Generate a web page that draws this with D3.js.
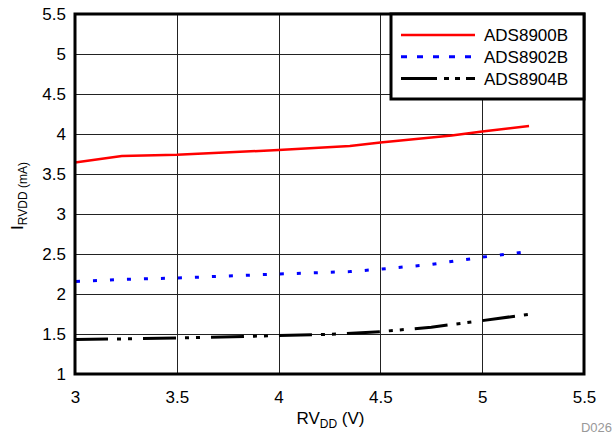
<!DOCTYPE html>
<html><head><meta charset="utf-8">
<script src="https://cdn.jsdelivr.net/npm/d3@7"></script>
<style>
body{margin:0;background:#fff;}
svg{display:block;font-family:"Liberation Sans",Arial,sans-serif;}
</style></head>
<body>
<svg id="c" width="613" height="438"></svg>
<script>
const xTicks = [3, 3.5, 4, 4.5, 5, 5.5];
const yTicks = [1, 1.5, 2, 2.5, 3, 3.5, 4, 4.5, 5, 5.5];
const seriesNames = ["ADS8900B", "ADS8902B", "ADS8904B"];
const x8900 = [3.0, 3.23, 3.5, 4.0, 4.35, 4.5, 4.85, 5.0, 5.23];
const y8900 = [3.645, 3.725, 3.74, 3.80, 3.85, 3.895, 3.98, 4.03, 4.10];
const x8902 = [3.0, 3.2, 3.5, 4.0, 4.35, 4.5, 4.75, 5.0, 5.23];
const y8902 = [2.155, 2.18, 2.20, 2.25, 2.28, 2.31, 2.37, 2.46, 2.53];
const x8904 = [3.0, 3.5, 4.0, 4.3, 4.5, 4.75, 5.0, 5.23];
const y8904 = [1.43, 1.45, 1.48, 1.50, 1.53, 1.585, 1.667, 1.746];

const svg = d3.select("#c");
const L = 75, R = 584, T = 14, B = 374;
const x = d3.scaleLinear().domain([3, 5.5]).range([L, R]);
const y = d3.scaleLinear().domain([1, 5.5]).range([B, T]);

// grid
const g = svg.append("g");
g.selectAll(".vg").data(xTicks).join("line")
  .attr("x1", d => Math.round(x(d)) + 0.5).attr("x2", d => Math.round(x(d)) + 0.5)
  .attr("y1", T).attr("y2", B).attr("stroke", "#222").attr("stroke-width", 1);
g.selectAll(".hg").data(yTicks).join("line")
  .attr("y1", d => Math.round(y(d)) + 0.5).attr("y2", d => Math.round(y(d)) + 0.5)
  .attr("x1", L).attr("x2", R).attr("stroke", "#222").attr("stroke-width", 1);

// axes labels
const xAxis = d3.axisBottom(x).tickValues(xTicks).tickSize(0).tickPadding(0).tickFormat(d3.format("~g"));
const xa = svg.append("g").attr("transform", `translate(0,${B})`).call(xAxis);
xa.select(".domain").remove();
xa.selectAll("text").attr("font-size", 17).attr("font-family", "Liberation Sans, Arial, sans-serif")
  .attr("fill", "#000").attr("dy", null).attr("y", 29);

const yAxis = d3.axisLeft(y).tickValues(yTicks).tickSize(0).tickPadding(0).tickFormat(d3.format("~g"));
const ya = svg.append("g").attr("transform", `translate(${L - 9},0)`).call(yAxis);
ya.select(".domain").remove();
ya.selectAll("text").attr("font-size", 17).attr("font-family", "Liberation Sans, Arial, sans-serif")
  .attr("fill", "#000").attr("dy", "0.35em").attr("x", 0);

// lines
const line = d3.line().x(d => x(d[0])).y(d => y(d[1]));
const d0 = x8900.map((v, i) => [v, y8900[i]]);
const d1 = x8902.map((v, i) => [v, y8902[i]]);
const d2 = x8904.map((v, i) => [v, y8904[i]]);
svg.append("path").attr("d", line(d0)).attr("fill", "none").attr("stroke", "#ff0000").attr("stroke-width", 2.5);
svg.append("path").attr("d", line(d1)).attr("fill", "none").attr("stroke", "#0000ff").attr("stroke-width", 3)
  .attr("stroke-dasharray", "4,13").attr("stroke-dashoffset", -1);
svg.append("path").attr("d", line(d2)).attr("fill", "none").attr("stroke", "#000").attr("stroke-width", 3)
  .attr("stroke-dasharray", "33,9,4,7,4,11");

// border
svg.append("rect").attr("x", L).attr("y", T).attr("width", R - L).attr("height", B - T)
  .attr("fill", "none").attr("stroke", "#000").attr("stroke-width", 3);

// legend
const lg = svg.append("g");
lg.append("rect").attr("x", 391).attr("y", T).attr("width", R - 391).attr("height", 85)
  .attr("fill", "#fff").attr("stroke", "#000").attr("stroke-width", 3);
const legStyles = [
  {c: "#ff0000", w: 2.5, dash: null},
  {c: "#0000ff", w: 3, dash: "6,10"},
  {c: "#000", w: 3, dash: "36,7,5,6,5,6,9"}
];
seriesNames.forEach((n, i) => {
  const yy = 35 + i * 21.7;
  const ln = lg.append("line").attr("x1", 401).attr("x2", 475).attr("y1", yy).attr("y2", yy)
    .attr("stroke", legStyles[i].c).attr("stroke-width", legStyles[i].w);
  if (legStyles[i].dash) ln.attr("stroke-dasharray", legStyles[i].dash);
  lg.append("text").attr("x", 484).attr("y", yy).attr("dy", "0.36em").attr("font-size", 17)
    .attr("fill", "#000").text(n);
});

// x title
const xt = svg.append("text").attr("x", (L + R) / 2 + 1).attr("y", 424).attr("text-anchor", "middle")
  .attr("font-size", 17).attr("fill", "#000");
xt.append("tspan").text("RV");
xt.append("tspan").attr("font-size", 12).attr("dy", 4).text("DD");
xt.append("tspan").attr("dy", -4).text(" (V)");

// y title
const yt = svg.append("text").attr("transform", `translate(23,${(T + B) / 2 + 2}) rotate(-90)`)
  .attr("text-anchor", "middle").attr("font-size", 17).attr("fill", "#000");
yt.append("tspan").text("I");
yt.append("tspan").attr("font-size", 12).attr("dy", 4).text("RVDD (mA)");

// figure id
svg.append("text").attr("x", 612).attr("y", 432).attr("text-anchor", "end").attr("font-size", 13)
  .attr("fill", "#999").text("D026");
</script>
</body></html>
